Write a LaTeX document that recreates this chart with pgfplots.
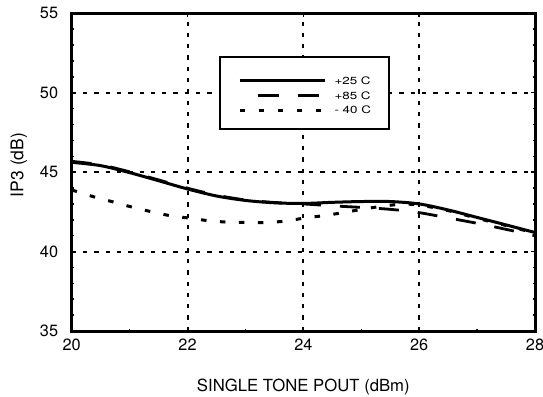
\documentclass[border=0pt]{standalone}
\usepackage{pgfplots}
\pgfplotsset{compat=1.18}
\usepackage{fontspec}
\setmainfont{TeX Gyre Heros}
\begin{document}
\begin{tikzpicture}
\begin{axis}[
  scale only axis,
  width=463.3pt, height=317.7pt,
  xmin=20, xmax=28, ymin=35, ymax=55,
  xtick={20,22,...,28}, ytick={35,40,...,55},
  minor x tick num=1, minor y tick num=4,
  tick pos=both, tick align=inside,
  major tick length=4pt, minor tick length=2pt,
  every tick/.style={black, line width=1.5pt},
  axis line style={line width=3pt},
  grid=major,
  major grid style={black, line width=2pt, dash pattern=on 4.3pt off 7pt},
  /pgf/number format/assume math mode=true,
  tick label style={font=\fontsize{16.3}{19}\selectfont},
  xticklabel style={inner sep=0pt, anchor=north, yshift=-8pt},
  yticklabel style={inner sep=0pt, anchor=east, xshift=-13.4pt},
  xlabel={SINGLE TONE POUT (dBm)},
  ylabel={IP3 (dB)},
  xlabel style={font=\fontsize{16.7}{20}\selectfont, at={(rel axis cs:0.5,-0.1895)}, anchor=base, inner sep=0pt},
  ylabel style={font=\fontsize{17.5}{20}\selectfont, at={(rel axis cs:-0.1045,0.5225)}, anchor=base, inner sep=0pt},
  legend style={at={(rel axis cs:0.3201,0.8624)}, anchor=north west,
    draw=black, line width=2pt, fill=white, outer sep=0pt,
    inner xsep=18pt, inner ysep=15.25pt, row sep=2.6pt, column sep=8.5pt,
    font=\fontsize{10.3}{12}\selectfont,
    nodes={inner sep=0pt, text height=12.1pt, text depth=0pt}},
  legend cell align=left,
]
\addplot[black, line width=3pt, smooth,
  legend image code/.code={\draw[black, line width=3pt] (0pt,-2.4pt) -- (85pt,-2.4pt);}]
  coordinates {
  (20.0,45.62) (20.5,45.41) (21.0,44.97) (21.5,44.46) (22.0,43.94)
  (22.5,43.50) (23.0,43.22) (23.5,43.07) (24.0,43.03) (24.5,43.10)
  (25.0,43.15) (25.5,43.15) (26.0,43.00) (26.5,42.62) (27.0,42.15)
  (27.5,41.68) (28.0,41.20)};
\addlegendentry{\scalebox{1.3}[1]{+25 C}}
\addplot[black, line width=2.8pt, smooth, dash pattern=on 20pt off 19pt,
  legend image code/.code={\draw[black, line width=2.8pt, dash pattern=on 21pt off 18.5pt, dash phase=21pt] (0pt,-2.4pt) -- (85pt,-2.4pt);}]
  coordinates {
  (20.0,45.68) (20.5,45.46) (21.0,45.02) (21.5,44.51) (22.0,43.99)
  (22.5,43.55) (23.0,43.25) (23.5,43.09) (24.0,43.00) (24.5,42.88)
  (25.0,42.78) (25.5,42.66) (26.0,42.45) (26.5,42.12) (27.0,41.78)
  (27.5,41.40) (28.0,41.00)};
\addlegendentry{\scalebox{1.3}[1]{+85 C}}
\addplot[black, line width=3pt, smooth, dash pattern=on 5.5pt off 13.5pt,
  legend image code/.code={\draw[black, line width=3pt, dash pattern=on 5pt off 14.2pt] (0pt,-2.4pt) -- (85pt,-2.4pt);}]
  coordinates {
  (20.0,43.88) (20.35,43.48) (20.7,43.14) (21.0,42.84) (21.35,42.53)
  (21.7,42.26) (22.0,42.12) (22.35,41.95) (22.7,41.85) (23.0,41.83)
  (23.35,41.83) (23.7,41.92) (24.0,42.10) (24.35,42.26) (24.65,42.43)
  (25.0,42.65) (25.35,42.85) (25.7,42.98) (26.0,42.93) (26.5,42.58)
  (27.0,42.10) (27.5,41.64) (28.0,41.16)};
\addlegendentry{\scalebox{1.3}[1]{- 40 C}}
\end{axis}
\pgfresetboundingbox
\path ([shift={(-71.7pt,-65pt)}]current axis.south west) rectangle ([shift={(8pt,13.3pt)}]current axis.north east);
\end{tikzpicture}
\end{document}
